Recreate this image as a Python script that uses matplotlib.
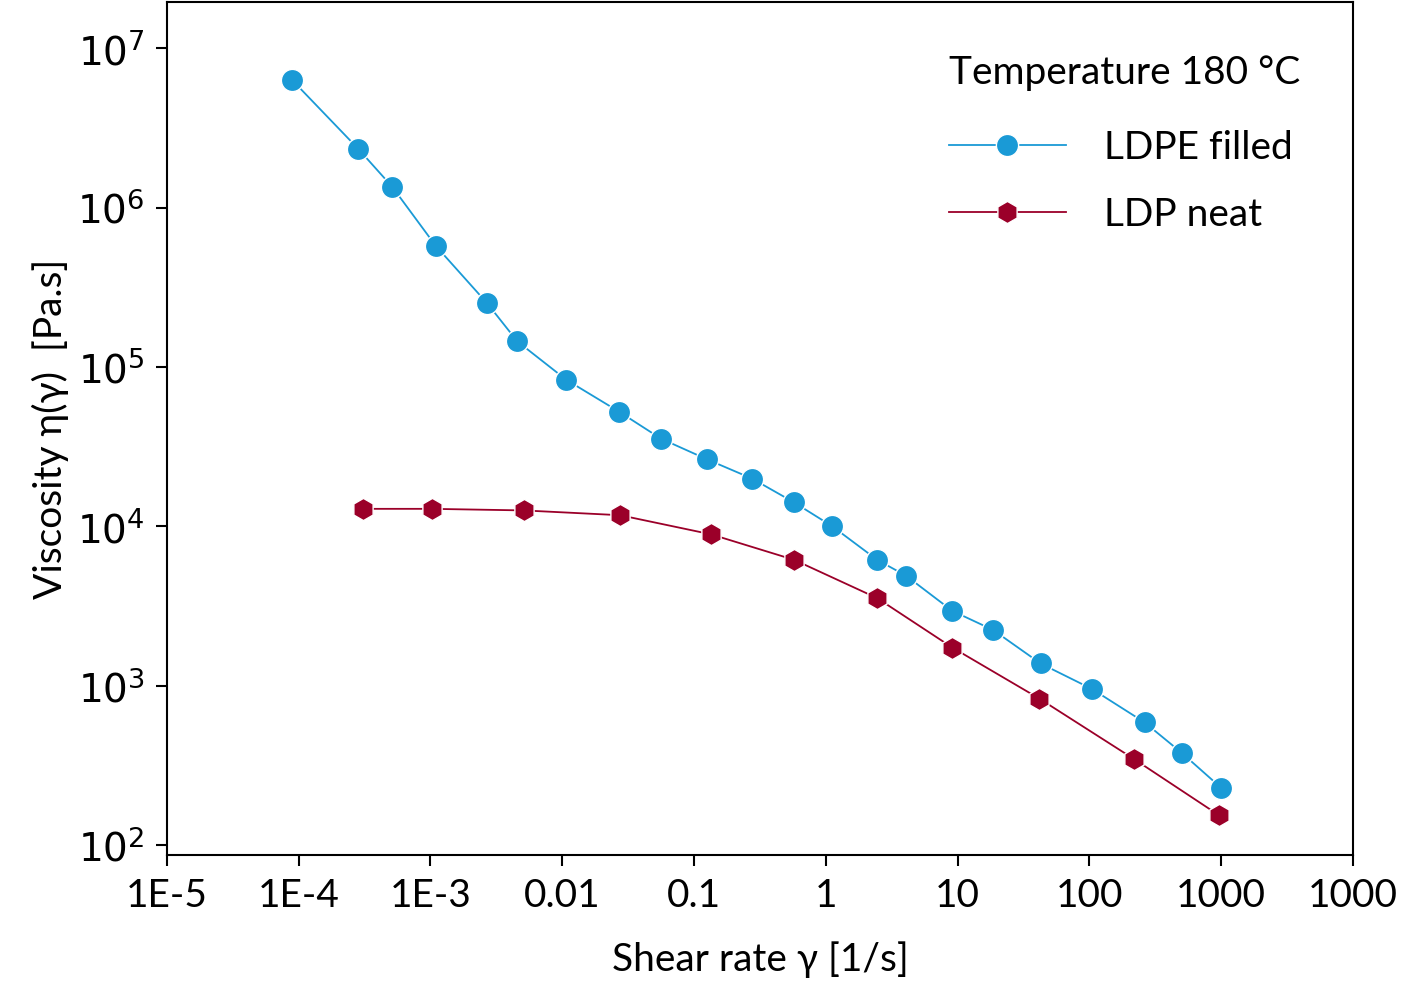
import matplotlib
matplotlib.use("Agg")
import matplotlib.pyplot as plt
import numpy as np

plt.rcParams["font.family"] = "Lato"

filled_logx = [-4.05,-3.55,-3.29,-2.96,-2.57,-2.34,-1.97,-1.57,-1.25,-0.90,-0.56,-0.24,0.05,0.39,0.61,0.96,1.27,1.63,2.02,2.42,2.70,3.00]
filled_logy = [6.80,6.37,6.13,5.76,5.40,5.16,4.92,4.72,4.55,4.42,4.30,4.15,4.00,3.79,3.69,3.47,3.35,3.14,2.98,2.77,2.58,2.36]
neat_logx = [-3.51,-2.99,-2.29,-1.56,-0.87,-0.24,0.39,0.96,1.62,2.34,2.98]
neat_logy = [4.11,4.11,4.10,4.07,3.95,3.79,3.55,3.24,2.92,2.54,2.19]
xticks = [1e-5,1e-4,1e-3,1e-2,1e-1,1,10,100,1000,10000]
xticklabels = ["1E-5","1E-4","1E-3","0.01","0.1","1","10","100","1000","1000"]
yticks = [1e2,1e3,1e4,1e5,1e6,1e7]
yticklabels = [r"$10^{%d}$" % n for n in range(2,8)]

blue = "#1a9ad6"
red = "#9b0029"

fig = plt.figure(figsize=(14.02,9.98), dpi=100)
ax = fig.add_axes([0.119,0.143,0.846,0.855])
ax.plot(10**np.array(filled_logx), 10**np.array(filled_logy), color=blue, lw=1.3,
        marker="o", ms=16, mfc=blue, mec="white", mew=1, label="LDPE filled")
ax.plot(10**np.array(neat_logx), 10**np.array(neat_logy), color=red, lw=1.3,
        marker="h", ms=16, mfc=red, mec="white", mew=1, label="LDP neat")
ax.set_xscale("log"); ax.set_yscale("log")
ax.set_xlim(1e-5,1e4); ax.set_ylim(10**1.937,10**7.289)
ax.set_xticks(xticks); ax.set_xticklabels(xticklabels)
ax.set_yticks(yticks); ax.set_yticklabels(yticklabels)
ax.minorticks_off()
ax.tick_params(direction="out", length=8, width=1.5, labelsize=28, pad=8)
for s in ax.spines.values(): s.set_linewidth(1.5)
ax.set_xlabel("Shear rate γ [1/s]", fontsize=28, labelpad=20)
ax.set_ylabel("Viscosity η(γ)  [Pa.s]", fontsize=28, labelpad=6)
leg = ax.legend(title="Temperature 180 °C", loc="upper right", frameon=False,
                fontsize=28, title_fontsize=28, handlelength=3, handletextpad=1.0,
                labelspacing=0.8, bbox_to_anchor=(0.985,0.97))
leg._legend_box.align = "left"
leg.get_title().set_position((0, 8))
fig.savefig("out.png", dpi=100)
